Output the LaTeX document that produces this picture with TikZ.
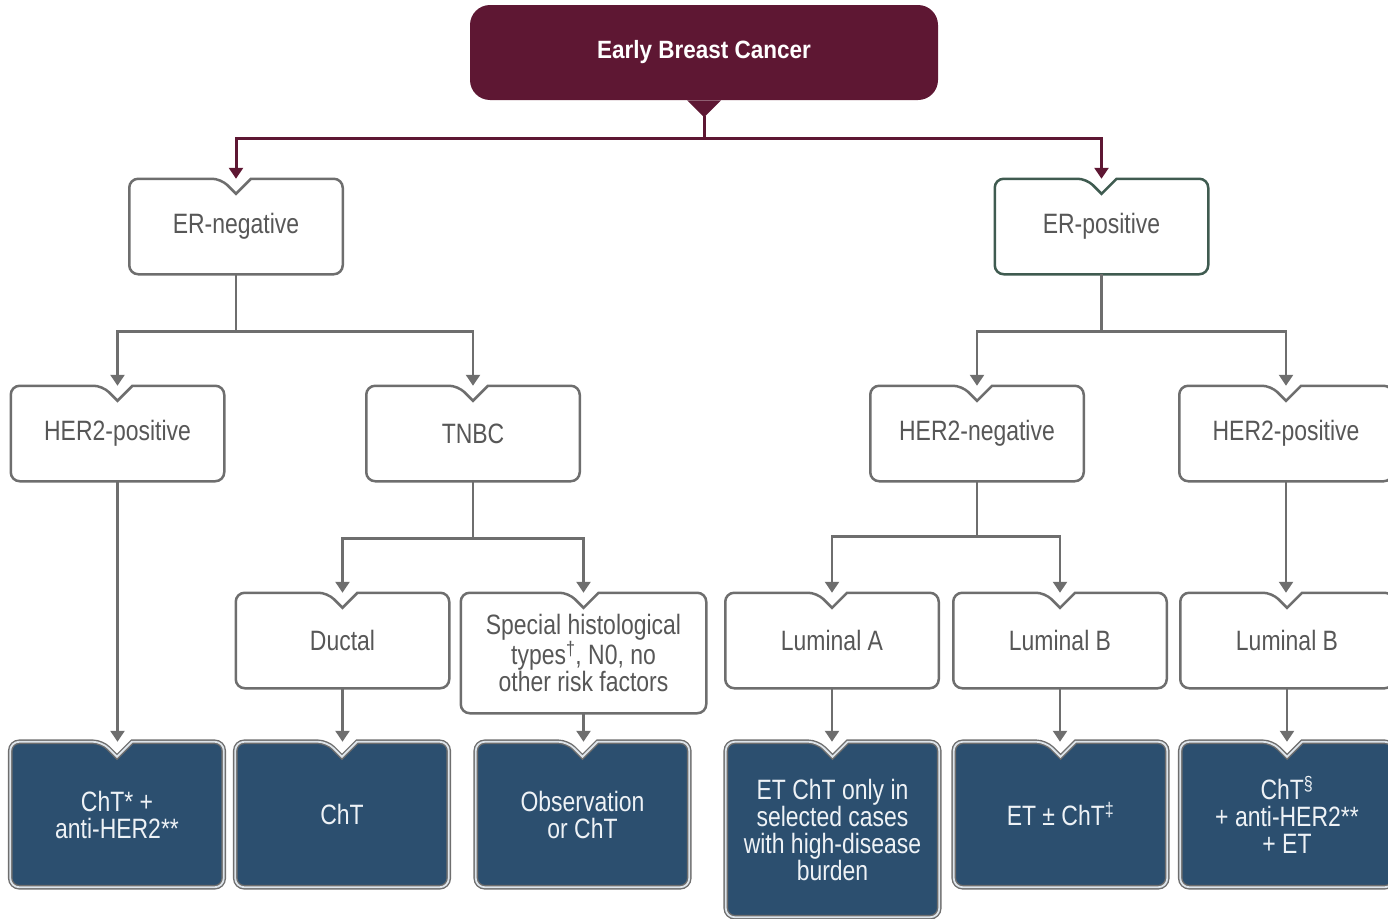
\documentclass[tikz,border=0pt]{standalone}
\usepackage{fontspec}
\setmainfont{Liberation Sans}[FakeStretch=0.82]
\newfontfamily\titelfont{Liberation Sans}[FakeStretch=0.9]
\usepackage{xcolor}
\usetikzlibrary{arrows.meta,calc,backgrounds}
\definecolor{weinrot}{HTML}{5E1733}
\definecolor{randgrau}{HTML}{6E6E6E}
\definecolor{textgrau}{HTML}{575757}
\definecolor{gruenrand}{HTML}{3F5B50}
\definecolor{blaufuell}{HTML}{2C4F6F}
\definecolor{hellrand}{HTML}{DDE4EA}
\definecolor{hellschrift}{HTML}{EEF2F6}
% Kasten mit Kerbe oben.
\newcommand{\kerbe}[2]{%
  \draw[#2] ($(#1.north)+(15pt,0pt)$) -- (#1.north east) -- (#1.south east)
    -- (#1.south west) -- (#1.north west) -- ($(#1.north)+(-15pt,0pt)$)
    [sharp corners] -- ($(#1.north)+(0pt,-15pt)$) -- cycle;}

\begin{document}
\begin{tikzpicture}[x=1pt, y=-1pt, line width=2.5pt,
    kasten/.style={minimum width=211pt, minimum height=93pt, inner sep=0pt, align=center,
      text=textgrau, font=\fontsize{28}{27}\selectfont},
    blaukasten/.style={kasten, minimum height=143pt, text=hellschrift},
    rahmen/.style={draw=randgrau, fill=white, line width=2.5pt, rounded corners=9pt},
    blaurahmen/.style={draw=randgrau, fill=blaufuell, line width=1.4pt, double=hellrand,
      double distance=1.8pt, rounded corners=9pt},
    pfeil/.style={draw=randgrau, line width=2.5pt, -{Triangle[width=14pt,length=11pt]}},
    rotpfeil/.style={draw=weinrot, line width=3pt, -{Triangle[width=14pt,length=11pt]}}]
    \useasboundingbox (0,0) rectangle (1388,918);

    % Kopf.
    \node[minimum width=468pt, minimum height=95pt, inner sep=0pt, fill=weinrot, rounded corners=20pt,
      text=white, font=\titelfont\bfseries\fontsize{25}{27}\selectfont] (ebc) at (704,52.5) {Early Breast Cancer};
    \fill[weinrot] ($(ebc.south)+(-17pt,1pt)$) -- ($(ebc.south)+(17pt,1pt)$) -- ($(ebc.south)+(0pt,-16pt)$) -- cycle;
    \coordinate (ebcspitze) at ($(ebc.south)+(0pt,-15pt)$);

    % Kaesten.
    \node[kasten] (erneg) at (236,226.5) {ER-negative};
    \node[kasten] (erpos) at (1101.5,226.5) {ER-positive};
    \node[kasten] (her2pl) at (117.5,433.5) {HER2-positive};
    \node[kasten] (tnbc) at (473,433.5) {TNBC};
    \node[kasten] (her2neg) at (977,433.5) {HER2-negative};
    \node[kasten] (her2pr) at (1286,433.5) {HER2-positive};
    \node[kasten] (ductal) at (342.5,640.5) {Ductal};
    \node[kasten, minimum width=243pt, minimum height=118pt] (special) at (583.5,653)
      {Special histological\\types\textsuperscript{†}, N0, no\\other risk factors};
    \node[kasten] (luma) at (832,640.5) {Luminal A};
    \node[kasten] (lumb) at (1060,640.5) {Luminal B};
    \node[kasten] (lumbr) at (1287,640.5) {Luminal B};

    % Therapie.
    \node[blaukasten] (tx1) at (117,814.5) {ChT* +\\anti-HER2**};
    \node[blaukasten] (tx2) at (342,814.5) {ChT};
    \node[blaukasten] (tx3) at (582.5,814.5) {Observation\\or ChT};
    \node[blaukasten, minimum height=173pt] (tx4) at (832.5,829.5)
      {ET ChT only in\\selected cases\\with high-disease\\burden};
    \node[blaukasten] (tx5) at (1060.5,814.5) {ET ± ChT\textsuperscript{‡}};
    \node[blaukasten] (tx6) at (1287,814.5) {ChT\textsuperscript{§}\\+ anti-HER2**\\+ ET};

    % Rahmen.
    \begin{scope}[on background layer]
        \foreach \n in {erneg,her2pl,tnbc,her2neg,her2pr,ductal,special,luma,lumb,lumbr}
        {
            \kerbe{\n}{rahmen}
        }
        \kerbe{erpos}{rahmen, draw=gruenrand}
        \foreach \n in {tx1,tx2,tx3,tx4,tx5,tx6}
        {
            \kerbe{\n}{blaurahmen}
        }
    \end{scope}

    % Linien.
    \draw[rotpfeil] (ebcspitze) -- ++(0pt,-22pt) -| (erneg.north);
    \draw[rotpfeil] (ebcspitze) -- ++(0pt,-22pt) -| (erpos.north);
    \draw[pfeil] (erneg.south) -- ++(0pt,-57pt) -| (her2pl.north);
    \draw[pfeil] (erneg.south) -- ++(0pt,-57pt) -| (tnbc.north);
    \draw[pfeil] (erpos.south) -- ++(0pt,-57pt) -| (her2neg.north);
    \draw[pfeil] (erpos.south) -- ++(0pt,-57pt) -| (her2pr.north);
    \draw[pfeil] (tnbc.south) -- ++(0pt,-57pt) -| (ductal.north);
    \draw[pfeil] (tnbc.south) -- ++(0pt,-57pt) -| (special.north);
    \draw[pfeil] (her2neg.south) -- ++(0pt,-55pt) -| (luma.north);
    \draw[pfeil] (her2neg.south) -- ++(0pt,-55pt) -| (lumb.north);
    \draw[pfeil] (her2pr.south) -- (her2pr.south |- lumbr.north);
    \foreach \a/\b in {her2pl/tx1, ductal/tx2, special/tx3, luma/tx4, lumb/tx5, lumbr/tx6}
    {
        \draw[pfeil] (\a.south) -- (\a.south |- \b.north);
    }
\end{tikzpicture}
\end{document}
